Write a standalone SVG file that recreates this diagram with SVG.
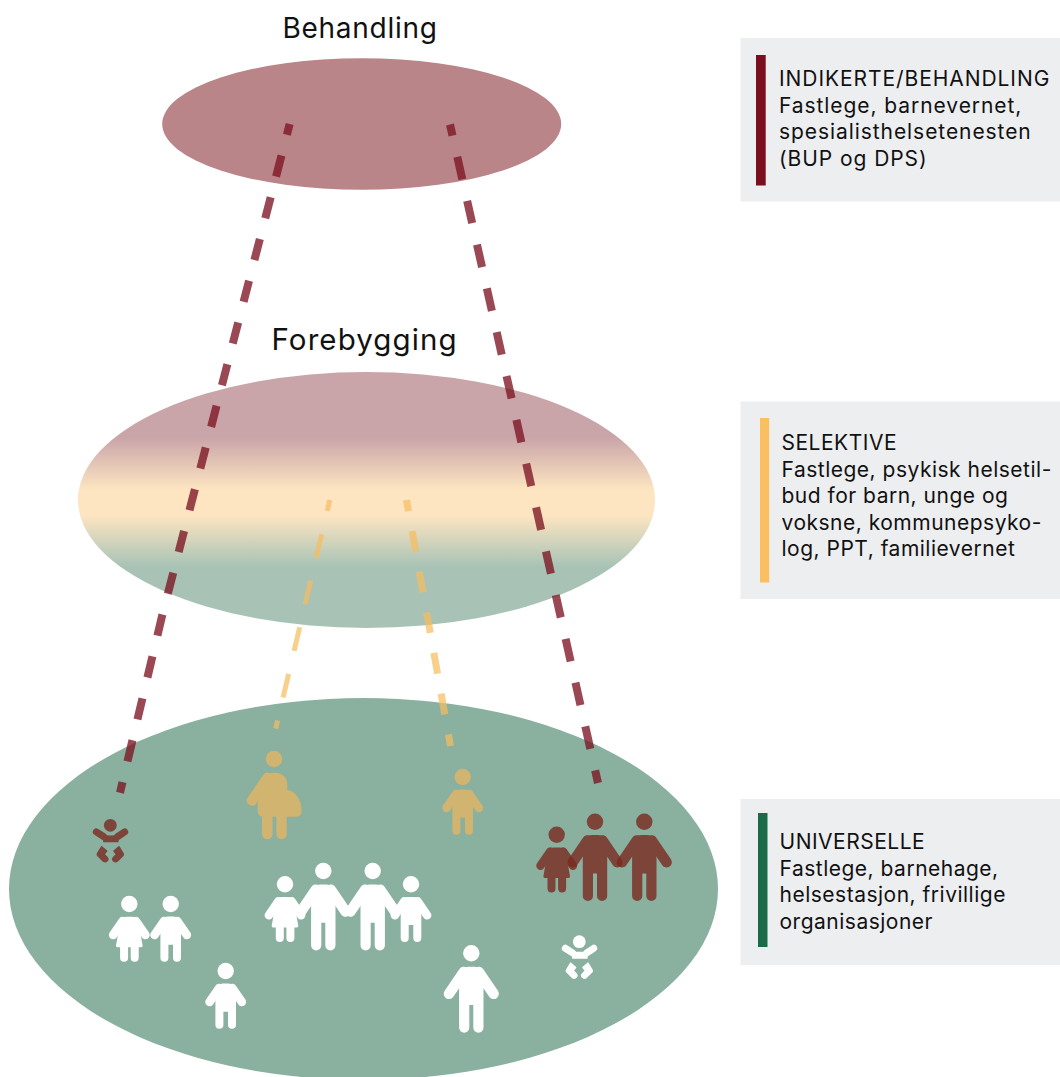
<svg xmlns="http://www.w3.org/2000/svg" xmlns:xlink="http://www.w3.org/1999/xlink" width="1060" height="1077" viewBox="0 0 1060 1077">
<style>
text{font-family:Inter,"Liberation Sans",sans-serif;fill:#111}
.t1{font-size:28px;letter-spacing:.72px}
.t2{font-size:29.5px;letter-spacing:1.1px}
.legend{font-size:21px;letter-spacing:.5px}
.wide{letter-spacing:.93px}
.box{fill:#edeef0}
.conn{fill:none}
.red{stroke:#7b1220;stroke-opacity:.77;stroke-width:8}
.yel{stroke:#f7bd5f;stroke-opacity:.72}
.white{fill:#fff;stroke:#fff}
.tan{fill:#d0b46f;stroke:#d0b46f}
.mar{fill:#7a2a20;stroke:#7a2a20;opacity:.8}
.a{stroke-linecap:round;fill:none}
.n{stroke:none}
.s{stroke-width:1.2;stroke-linejoin:round}
</style>
<defs>
<linearGradient id="midGrad" x1="0" y1="0" x2="0" y2="1">
<stop offset="0.254" stop-color="#c9a4a9"/>
<stop offset="0.46" stop-color="#fde5c1"/>
<stop offset="0.56" stop-color="#fde5c1"/>
<stop offset="0.76" stop-color="#a8c3b6"/>
</linearGradient>
<g id="adult">
<circle class="n" r="8.2"/>
<path class="n" d="M-12.200,22C-12.200,16.500-7,13.400-3,13.400H3C7,13.400 12.200,16.500 12.200,22V74.300A5.100,5.100 0 0 1 2,74.300V51.700H-2V74.300A5.100,5.100 0 0 1-12.200,74.300Z"/>
<path class="a" stroke-width="10.500" d="M-7.500,18.700L-22.300,40.500M7.500,18.700L22.300,40.500"/>
</g>
<g id="boy">
<circle class="n" r="8.200"/>
<path class="n" d="M-10.300,20C-10.300,15.500-6,12.600-3,12.600H3C6,12.600 10.300,15.500 10.300,20V53.700A4,4 0 0 1 2.300,53.700V40.700H-2.300V53.700A4,4 0 0 1-10.300,53.700Z"/>
<path class="a" stroke-width="8.500" d="M-6.500,16.900L-16.200,31M6.500,16.900L16.200,31"/>
</g>
<g id="girl">
<circle class="n" r="8.200"/>
<path class="n" d="M-9.500,20C-9.500,15.500-6,12.700-3,12.700H3C6,12.700 9.500,15.500 9.500,20L13.300,41.500Q13.500,43.300 12,43.300H9.400V53.700A4,4 0 0 1 1.400,53.700V43.300H-1.200V53.700A4,4 0 0 1-9.200,53.700V43.300H-12Q-13.500,43.300-13.300,41.500Z"/>
<path class="a" stroke-width="8.500" d="M-6.500,16.900L-16.200,31M6.500,16.900L16.200,31"/>
</g>
<g id="pregnant">
<circle class="n" r="8.200"/>
<path class="n" d="M-16.300,52Q-16.300,57.700-11,57.700H-12V75A5.300,5.300 0 0 0-1.400,75V57.700H2.300V75A5.200,5.200 0 0 0 12.700,75V57.700H22Q27.700,57.700 27.700,52C27.700,40 20,31 13.300,31V25C13.300,18 8,13.700 0.500,13.700C-5,13.700-9,16-11.500,20L-16.300,30Z"/>
<path class="a" stroke-width="10.500" d="M-6.500,18.900L-22,41.500"/>
</g>
<g id="baby">
<circle class="n" r="6.400"/>
<path class="n" d="M-8.500,9.200Q0,11 9,9.200L8.200,17H-7Z"/>
<path class="a" stroke-width="7" d="M-14,6.600L-6.800,11.200M14.400,6.600L7.500,11.200"/>
<path class="s" d="M-8.700,21.300L-3.500,25.700L-6,29L-3,32Q-1.600,33.600-2.500,35L-4.200,36.400Q-5.500,36.800-7,36L-13,30Q-13.400,29-12.800,28Z"/>
<path class="s" d="M8.700,21.300L3.500,25.700L6,29L3,32Q1.600,33.600 2.500,35L4.200,36.400Q5.500,36.800 7,36L13,30Q13.400,29 12.800,28Z"/>
</g>
</defs>

<g id="node-behandling">
<ellipse cx="361.700" cy="124" rx="199.500" ry="65.700" fill="#b98589"/>
<text class="t1" x="282.500" y="37.800">Behandling</text>
</g>
<g id="node-forebygging">
<ellipse cx="366.500" cy="500" rx="288.500" ry="128" fill="url(#midGrad)"/>
<text class="t2" x="271.500" y="349.500">Forebygging</text>
</g>
<g id="node-befolkning">
<ellipse cx="363.500" cy="889" rx="354.500" ry="191" fill="#8ab0a0"/>
</g>

<g id="connectors" class="conn">
<path class="red" stroke-dasharray="21.700 21.400" stroke-dashoffset="10.500" d="M289.700,124L162.300,615L120,792.700"/>
<path class="red" stroke-dasharray="23 21.900" stroke-dashoffset="11.600" d="M450,124.500L598,783"/>
<path class="yel" stroke-width="5" stroke-dasharray="24.200 23.700" stroke-dashoffset="12.900" d="M329.800,500L275.700,728.700"/>
<path class="yel" stroke-width="7" stroke-dasharray="21 20.300" stroke-dashoffset="9.800" d="M406.500,500L450.500,746"/>
</g>

<g id="icon-baby-red" class="mar"><use xlink:href="#baby" href="#baby" x="110.300" y="825.300"/></g>
<g id="icon-pregnant" class="tan"><use xlink:href="#pregnant" href="#pregnant" x="274" y="759"/></g>
<g id="icon-child-yellow" class="tan"><use xlink:href="#boy" href="#boy" x="462.700" y="777"/></g>
<g id="icon-girl-red" class="mar"><use xlink:href="#girl" href="#girl" x="556.700" y="834.700"/></g>
<g id="icon-adult-red-1" class="mar"><use xlink:href="#adult" href="#adult" x="595" y="821.700"/></g>
<g id="icon-adult-red-2" class="mar"><use xlink:href="#adult" href="#adult" x="644.300" y="821.700"/></g>
<g id="icon-children-pair" class="white">
<use xlink:href="#girl" href="#girl" x="129.300" y="904"/>
<use xlink:href="#boy" href="#boy" x="170.700" y="904"/>
</g>
<g id="icon-family" class="white">
<use xlink:href="#girl" href="#girl" x="285" y="884.300"/>
<use xlink:href="#adult" href="#adult" x="323.300" y="871"/>
<use xlink:href="#adult" href="#adult" x="372.700" y="871"/>
<use xlink:href="#boy" href="#boy" x="411" y="884.300"/>
</g>
<g id="icon-child-white" class="white"><use xlink:href="#boy" href="#boy" x="225.700" y="971"/></g>
<g id="icon-adult-white" class="white"><use xlink:href="#adult" href="#adult" x="471.300" y="953.300"/></g>
<g id="icon-baby-white" class="white"><use xlink:href="#baby" href="#baby" x="579.300" y="941.700"/></g>

<g id="legend-indikerte">
<rect class="box" x="740.500" y="38" width="319.500" height="163.500"/>
<rect x="756" y="55" width="9.700" height="130.500" fill="#7a0f1f"/>
<text class="legend wide" x="779" y="86">INDIKERTE/BEHANDLING</text>
<text class="legend wide" x="779" y="112.500">Fastlege, barnevernet,</text>
<text class="legend wide" x="779" y="139">spesialisthelsetenesten</text>
<text class="legend wide" x="779" y="165.500">(BUP og DPS)</text>
</g>
<g id="legend-selektive">
<rect class="box" x="740.500" y="401.500" width="319.500" height="197.500"/>
<rect x="760" y="418" width="9.200" height="164.500" fill="#f9bf60"/>
<text class="legend" x="781.500" y="450">SELEKTIVE</text>
<text class="legend" x="781.500" y="476.500">Fastlege, psykisk helsetil-</text>
<text class="legend" x="781.500" y="503">bud for barn, unge og</text>
<text class="legend" x="781.500" y="529.500">voksne, kommunepsyko-</text>
<text class="legend" x="781.500" y="556">log, PPT, familievernet</text>
</g>
<g id="legend-universelle">
<rect class="box" x="740.500" y="799" width="319.500" height="166"/>
<rect x="758" y="813" width="9.500" height="134" fill="#1a6b47"/>
<text class="legend" x="779.500" y="849">UNIVERSELLE</text>
<text class="legend" x="779.500" y="875.500">Fastlege, barnehage,</text>
<text class="legend" x="779.500" y="902">helsestasjon, frivillige</text>
<text class="legend" x="779.500" y="928.500">organisasjoner</text>
</g>
</svg>
